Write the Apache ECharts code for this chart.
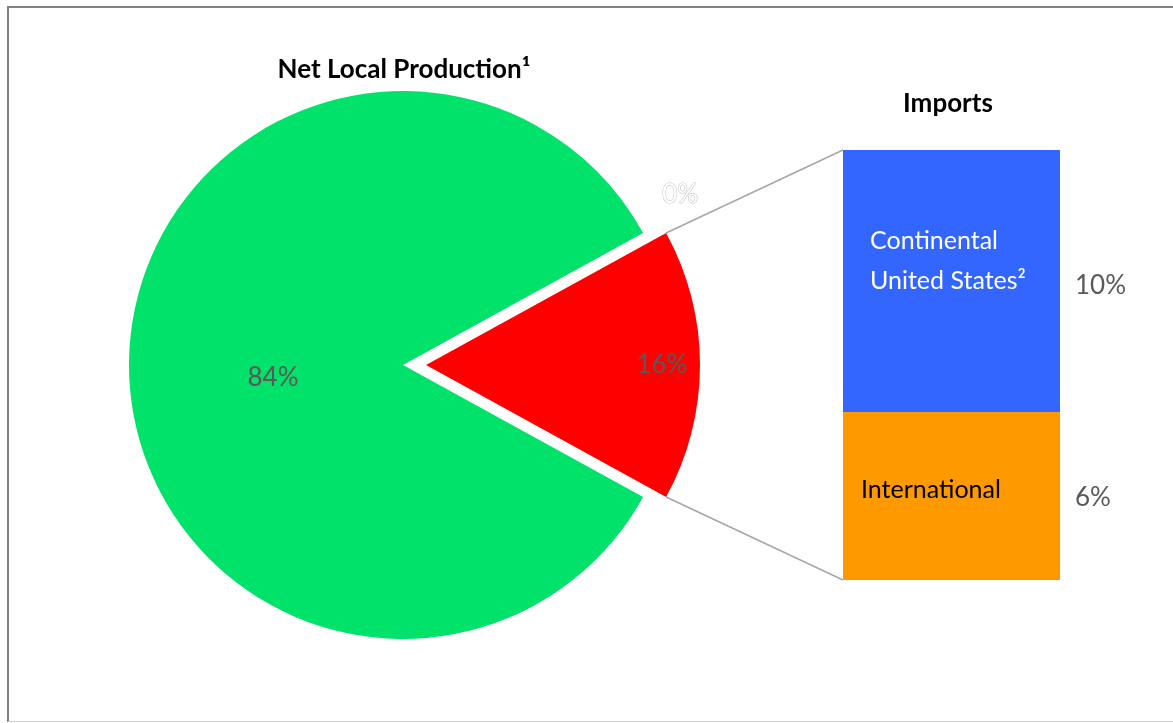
<!DOCTYPE html>
<html lang="en">
<head>
<meta charset="utf-8"/>
<script src="https://cdn.jsdelivr.net/npm/echarts@6/dist/echarts.min.js"></script>
<style>
    html, body { margin: 0; padding: 0; background: #fff; }
    #main { width: 1173px; height: 723px; }
</style>
</head>
<body>
<div id="main"></div>
<script>
    // pie: local production vs imports
    var pieNames = ['Imports', 'Net Local Production'];
    var pieValues = [16, 84];
    var pieColors = ['#ff0000', '#00e26a'];

    // bar: breakdown of imports (bottom to top)
    var importNames = ['International', 'Continental\nUnited States\u00b2'];
    var importValues = [6.25, 9.75];
    var importLabels = ['6%', '10%'];
    var importColors = ['#ff9900', '#3366ff'];
    var zeroLabel = '0%';

    var pieCenter = [403, 365];
    var pieRadius = 274;
    var explode = 23;
    var gridBox = { left: 843, top: 150, width: 217, height: 430 };

    var total = pieValues[0] + pieValues[1];
    var importTotal = importValues[0] + importValues[1];
    var halfDeg = pieValues[0] / total * 180;

    var chart = echarts.init(document.getElementById('main'));

    function pieData(showIdx) {
        return pieNames.map(function (n, i) {
            return {
                name: n,
                value: pieValues[i],
                selected: i === 0,
                label: { show: i === showIdx }
            };
        });
    }

    var option = {
        animation: false,
        title: [
            {
                text: 'Net Local Production\u00b9',
                left: 399, top: 52, textAlign: 'center',
                textStyle: { fontFamily: 'Lato', fontSize: 26, fontWeight: 'bold', color: '#000' }
            },
            {
                text: 'Imports',
                left: 943, top: 86, textAlign: 'center',
                textStyle: { fontFamily: 'Lato', fontSize: 26, fontWeight: 'bold', color: '#000' }
            }
        ],
        grid: gridBox,
        xAxis: { type: 'category', data: ['Imports'], show: false },
        yAxis: { type: 'value', min: 0, max: importTotal, show: false },
        series: [
            {
                type: 'pie',
                silent: true,
                center: pieCenter,
                radius: pieRadius,
                startAngle: halfDeg,
                clockwise: true,
                selectedMode: 'single',
                selectedOffset: explode,
                color: pieColors,
                label: {
                    position: 'inside',
                    formatter: '\n{c}%',
                    lineHeight: 26,
                    fontFamily: 'Lato', fontSize: 26, color: '#595959',
                    padding: [0, 0, 0, 20]
                },
                data: pieData(1)
            },
            {
                // transparent copy, only to put the imports label near the rim
                type: 'pie',
                silent: true,
                center: pieCenter,
                radius: [pieRadius * 0.7, pieRadius],
                startAngle: halfDeg,
                clockwise: true,
                selectedMode: 'single',
                selectedOffset: explode,
                itemStyle: { color: 'rgba(0,0,0,0)' },
                label: {
                    position: 'inside',
                    formatter: '{c}%',
                    fontFamily: 'Lato', fontSize: 26, color: '#595959'
                },
                data: pieData(0)
            },
            {
                type: 'bar', stack: 'imp', barWidth: '100%', barGap: '-100%', silent: true,
                itemStyle: { color: importColors[0] },
                label: {
                    show: true, formatter: importNames[0],
                    position: [18, 78], verticalAlign: 'middle', align: 'left',
                    fontFamily: 'Lato', fontSize: 25, color: '#000'
                },
                data: [importValues[0]]
            },
            {
                type: 'bar', stack: 'imp', barWidth: '100%', barGap: '-100%', silent: true,
                itemStyle: { color: importColors[1] },
                label: {
                    show: true, formatter: importNames[1],
                    position: [27, 111], verticalAlign: 'middle', align: 'left',
                    lineHeight: 40,
                    fontFamily: 'Lato', fontSize: 25, color: '#fff'
                },
                data: [importValues[1]]
            },
            {
                type: 'bar', stack: 'pct', barWidth: '100%', barGap: '-100%', silent: true,
                itemStyle: { color: 'rgba(0,0,0,0)' },
                label: {
                    show: true, formatter: importLabels[0], position: 'right', distance: 15,
                    offset: [0, 2], fontFamily: 'Lato', fontSize: 26, color: '#595959'
                },
                data: [importValues[0]]
            },
            {
                type: 'bar', stack: 'pct', barWidth: '100%', barGap: '-100%', silent: true,
                itemStyle: { color: 'rgba(0,0,0,0)' },
                label: {
                    show: true, formatter: importLabels[1], position: 'right', distance: 15,
                    offset: [0, 5], fontFamily: 'Lato', fontSize: 26, color: '#595959'
                },
                data: [importValues[1]]
            }
        ]
    };
    chart.setOption(option);

    // connector lines from the exploded slice to the bar corners
    var half = halfDeg * Math.PI / 180;
    var cx = pieCenter[0] + explode;
    var topCorner = [cx + pieRadius * Math.cos(half), pieCenter[1] - pieRadius * Math.sin(half)];
    var botCorner = [cx + pieRadius * Math.cos(half), pieCenter[1] + pieRadius * Math.sin(half)];
    var barTop = chart.convertToPixel({ yAxisIndex: 0 }, importTotal);
    var barBot = chart.convertToPixel({ yAxisIndex: 0 }, 0);
    var lineStyle = { stroke: '#a6a6a6', lineWidth: 1.5 };

    chart.setOption({
        graphic: [
            { type: 'line', shape: { x1: topCorner[0], y1: topCorner[1], x2: gridBox.left, y2: barTop }, style: lineStyle, silent: true },
            { type: 'line', shape: { x1: botCorner[0], y1: botCorner[1], x2: gridBox.left, y2: barBot }, style: lineStyle, silent: true },
            {
                type: 'text', x: topCorner[0] + 14, y: topCorner[1] - 38, silent: true,
                style: {
                    text: zeroLabel, fill: '#fff', stroke: '#c0c0c0', lineWidth: 1,
                    font: '26px Lato', textAlign: 'center', textVerticalAlign: 'middle'
                }
            },
            // chart area border
            { type: 'line', shape: { x1: 7, y1: 7, x2: 1173, y2: 7 }, style: { stroke: '#808080', lineWidth: 2 }, silent: true },
            { type: 'line', shape: { x1: 8, y1: 6, x2: 8, y2: 722 }, style: { stroke: '#808080', lineWidth: 2 }, silent: true },
            { type: 'line', shape: { x1: 8, y1: 721.5, x2: 1173, y2: 721.5 }, style: { stroke: '#d0d0d0', lineWidth: 1 }, silent: true }
        ]
    });
</script>
</body>
</html>
